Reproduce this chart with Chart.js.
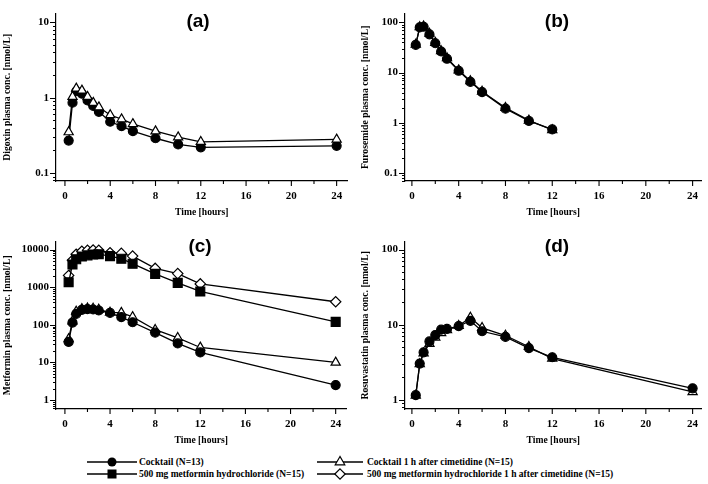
<!DOCTYPE html>
<html>
<head>
<meta charset="utf-8">
<script src="https://cdn.jsdelivr.net/npm/chart.js@4/dist/chart.umd.min.js"></script>
<style>
  html, body { margin: 0; padding: 0; background: #fff; }
  body { width: 708px; height: 484px; position: relative; overflow: hidden; }
  canvas { position: absolute; }
  .leg { position: absolute; font: bold 9.5px "Liberation Serif", "Times New Roman", serif; color: #000; white-space: nowrap; line-height: 12px; }
  svg { position: absolute; }
</style>
</head>
<body>
<canvas id="ca" width="354" height="222" style="left:0;top:0;"></canvas>
<canvas id="cb" width="354" height="222" style="left:354px;top:0;"></canvas>
<canvas id="cc" width="354" height="222" style="left:0;top:228px;"></canvas>
<canvas id="cd" width="354" height="222" style="left:354px;top:228px;"></canvas>
<div id="legend"></div>
<script>
// ---- data ----
const times = [0.33, 0.67, 1, 1.5, 2, 2.5, 3, 4, 5, 6, 8, 10, 12, 24];
const timesFuro = [0.33, 0.67, 1, 1.5, 2, 2.5, 3, 4, 5, 6, 8, 10, 12];
const xTickLabels = [0, 4, 8, 12, 16, 20, 24];
const xMinorTicks = [2, 6, 10, 14, 18, 22];

const digoxinCocktail = [0.27, 0.86, 1.22, 1.13, 0.92, 0.78, 0.65, 0.48, 0.42, 0.36, 0.29, 0.24, 0.22, 0.23];
const digoxinCimet    = [0.35, 1.03, 1.33, 1.25, 1.03, 0.86, 0.75, 0.59, 0.52, 0.45, 0.36, 0.30, 0.26, 0.28];

const furoCocktail = [35.7, 79.7, 82, 58, 38.5, 26.4, 18.9, 10.9, 6.55, 4.1, 1.92, 1.09, 0.74];
const furoCimet    = [36.5, 81, 84, 60, 39.5, 27, 19.5, 11.2, 6.8, 4.2, 2.0, 1.12, 0.72];

const metCocktail     = [35, 115, 195, 250, 260, 255, 240, 207, 160, 117, 62, 32, 18.5, 2.5];
const metCimet        = [42, 125, 225, 265, 275, 270, 255, 212, 210, 162, 74, 45, 25, 10];
const met500          = [1350, 4000, 5500, 6500, 7000, 7400, 7500, 6700, 5700, 4200, 2250, 1300, 770, 120];
const met500Cimet     = [2050, 5200, 7500, 9000, 9500, 9700, 9500, 8200, 7900, 6700, 3150, 2290, 1220, 410];

const rosuCocktail = [1.16, 3.05, 4.3, 6.0, 7.3, 8.6, 8.8, 9.6, 11.3, 8.2, 6.9, 4.9, 3.7, 1.43];
const rosuCimet    = [1.15, 3.0, 4.2, 5.6, 6.8, 7.8, 8.5, 9.7, 12.5, 9.1, 7.2, 5.1, 3.55, 1.28];

const seriesNames = [
  'Cocktail (N=13)',
  '500 mg metformin hydrochloride (N=15)',
  'Cocktail 1 h after cimetidine (N=15)',
  '500 mg metformin hydrochloride 1 h after cimetidine (N=15)'
];

// ---- styling helpers ----
const SERIF = '"Liberation Serif", "Times New Roman", serif';
const styles = {
  circle:   { pointStyle: 'circle',   pointRadius: 4.5, pointBackgroundColor: '#000' },
  square:   { pointStyle: 'rect',     pointRadius: 6.3, pointBackgroundColor: '#000' },
  triangle: { pointStyle: 'triangle', pointRadius: 5.3, pointBackgroundColor: '#fff' },
  diamond:  { pointStyle: 'rectRot',  pointRadius: 5.2, pointBackgroundColor: '#fff' }
};
function ds(xs, ys, kind) {
  return Object.assign({
    data: xs.map((t, i) => ({ x: t, y: ys[i] })),
    borderColor: '#000', borderWidth: 1.3, tension: 0,
    pointBorderColor: '#000', pointBorderWidth: 1.2, pointHoverRadius: 0
  }, styles[kind]);
}
function pow10Between(min, max) {
  const out = [];
  for (let e = Math.floor(Math.log10(min)); e <= Math.ceil(Math.log10(max)); e++) {
    const v = Number(Math.pow(10, e).toPrecision(1));
    if (v >= min && v <= max) out.push({ value: v });
  }
  return out;
}
function fmt(v) { return String(Number(v.toPrecision(1))); }

const tickPlugin = {
  id: 'customTicks',
  afterDraw(chart) {
    const ctx = chart.ctx, x = chart.scales.x, y = chart.scales.y;
    ctx.save();
    ctx.strokeStyle = '#000';
    ctx.lineWidth = 1.1;
    ctx.beginPath();
    xTickLabels.forEach(v => { const p = x.getPixelForValue(v); ctx.moveTo(p, x.top); ctx.lineTo(p, x.top + 5); });
    xMinorTicks.forEach(v => { const p = x.getPixelForValue(v); ctx.moveTo(p, x.top); ctx.lineTo(p, x.top + 3); });
    const e0 = Math.floor(Math.log10(y.min)), e1 = Math.ceil(Math.log10(y.max));
    for (let e = e0; e <= e1; e++) {
      for (let k = 1; k <= 9; k++) {
        const v = k * Math.pow(10, e);
        if (v < y.min || v > y.max) continue;
        const p = Math.round(y.getPixelForValue(v)) + 0.5;
        const len = k === 1 ? 6 : 3;
        ctx.moveTo(y.right, p); ctx.lineTo(y.right - len, p);
      }
    }
    ctx.stroke();
    ctx.restore();
  }
};
const labelPlugin = {
  id: 'panelLabel',
  afterDraw(chart, args, opts) {
    const ctx = chart.ctx;
    ctx.save();
    ctx.font = 'bold 19px "Liberation Sans", Arial, sans-serif';
    ctx.fillStyle = '#000';
    ctx.textAlign = 'center';
    ctx.textBaseline = 'middle';
    ctx.fillText(opts.text, opts.x, opts.y);
    ctx.restore();
  }
};

function makeChart(id, cfg) {
  return new Chart(document.getElementById(id), {
    type: 'line',
    data: { datasets: cfg.datasets },
    plugins: [tickPlugin, labelPlugin],
    options: {
      responsive: false, animation: false,
      layout: { padding: { top: 12, right: cfg.padRight, left: 0, bottom: 0 } },
      plugins: {
        legend: { display: false }, tooltip: { enabled: false },
        panelLabel: cfg.label
      },
      scales: {
        x: {
          type: 'linear', min: cfg.xMin, max: cfg.xMax,
          afterBuildTicks: s => { s.ticks = xTickLabels.map(v => ({ value: v })); },
          afterFit: s => { s.height = 41; },
          grid: { display: false, drawTicks: false },
          border: { display: true, color: '#000', width: 1.2 },
          ticks: {
            autoSkip: false, maxRotation: 0, padding: 9, color: '#000',
            font: { family: SERIF, size: 11, weight: 'bold' },
            callback: v => String(v)
          },
          title: { display: true, text: 'Time [hours]', color: '#000',
                   font: { family: SERIF, size: 9.6, weight: 'bold' }, padding: { top: 0, bottom: 4 } }
        },
        y: {
          type: 'logarithmic', min: cfg.yMin, max: cfg.yMax,
          afterBuildTicks: s => { s.ticks = pow10Between(cfg.yMin, cfg.yMax); },
          afterFit: s => { s.width = cfg.yWidth; },
          grid: { display: false, drawTicks: false },
          border: { display: true, color: '#000', width: 1.2 },
          ticks: {
            autoSkip: false, padding: 7, color: '#000',
            font: { family: SERIF, size: 11, weight: 'bold' },
            callback: v => fmt(v)
          },
          title: { display: true, text: cfg.yTitle, color: '#000',
                   font: { family: SERIF, size: 9.7, weight: 'bold' }, padding: { top: cfg.titlePad, bottom: 0 } }
        }
      }
    }
  });
}

makeChart('ca', {
  yTitle: 'Digoxin plasma conc. [nmol/L]', yMin: 0.0785, yMax: 13.1, xMin: -0.79, xMax: 24.96,
  yWidth: 56, padRight: 4, titlePad: 2, label: { text: '(a)', x: 198, y: 22 },
  datasets: [ds(times, digoxinCimet, 'triangle'), ds(times, digoxinCocktail, 'circle')]
});
makeChart('cb', {
  yTitle: 'Furosemide plasma conc. [nmol/L]', yMin: 0.0695, yMax: 150, xMin: -0.59, xMax: 24.76,
  yWidth: 51, padRight: 2, titlePad: 6, label: { text: '(b)', x: 203, y: 22 },
  datasets: [ds(timesFuro, furoCocktail, 'circle'), ds(timesFuro, furoCimet, 'triangle')]
});
makeChart('cc', {
  yTitle: 'Metformin plasma conc. [nmol/L]', yMin: 0.58, yMax: 16240, xMin: -0.79, xMax: 24.96,
  yWidth: 56, padRight: 4, titlePad: 2, label: { text: '(c)', x: 200, y: 19 },
  datasets: [ds(times, metCocktail, 'circle'), ds(times, metCimet, 'triangle'),
             ds(times, met500, 'square'), ds(times, met500Cimet, 'diamond')]
});
makeChart('cd', {
  yTitle: 'Rosuvastatin plasma conc. [nmol/L]', yMin: 0.76, yMax: 127.4, xMin: -0.59, xMax: 24.76,
  yWidth: 51, padRight: 2, titlePad: 6, label: { text: '(d)', x: 203, y: 19 },
  datasets: [ds(times, rosuCocktail, 'circle'), ds(times, rosuCimet, 'triangle')]
});

// ---- legend ----
const legendItems = [
  { name: seriesNames[0], kind: 'circle',   lineX: 87,  lineW: 50, textX: 139, y: 462 },
  { name: seriesNames[1], kind: 'square',   lineX: 87,  lineW: 50, textX: 139, y: 474 },
  { name: seriesNames[2], kind: 'triangle', lineX: 317, lineW: 46, textX: 367, y: 462 },
  { name: seriesNames[3], kind: 'diamond',  lineX: 317, lineW: 46, textX: 367, y: 474 }
];
const legendEl = document.getElementById('legend');
const NS = 'http://www.w3.org/2000/svg';
legendItems.forEach(it => {
  const svg = document.createElementNS(NS, 'svg');
  svg.setAttribute('width', it.lineW); svg.setAttribute('height', 14);
  svg.style.left = it.lineX + 'px'; svg.style.top = (it.y - 7) + 'px';
  const c = it.lineW / 2;
  let m = '<line x1="0" y1="7" x2="' + it.lineW + '" y2="7" stroke="#000" stroke-width="1.3"/>';
  if (it.kind === 'circle') m += '<circle cx="' + c + '" cy="7" r="4.5" fill="#000"/>';
  if (it.kind === 'square') m += '<rect x="' + (c - 4.5) + '" y="2.5" width="9" height="9" fill="#000"/>';
  if (it.kind === 'triangle') m += '<polygon points="' + c + ',1.5 ' + (c - 4.8) + ',9.8 ' + (c + 4.8) + ',9.8" fill="#fff" stroke="#000" stroke-width="1.2"/>';
  if (it.kind === 'diamond') m += '<polygon points="' + c + ',1.8 ' + (c + 5.2) + ',7 ' + c + ',12.2 ' + (c - 5.2) + ',7" fill="#fff" stroke="#000" stroke-width="1.2"/>';
  svg.innerHTML = m;
  legendEl.appendChild(svg);
  const d = document.createElement('div');
  d.className = 'leg';
  d.textContent = it.name;
  d.style.left = it.textX + 'px';
  d.style.top = (it.y - 6) + 'px';
  legendEl.appendChild(d);
});
</script>
</body>
</html>
